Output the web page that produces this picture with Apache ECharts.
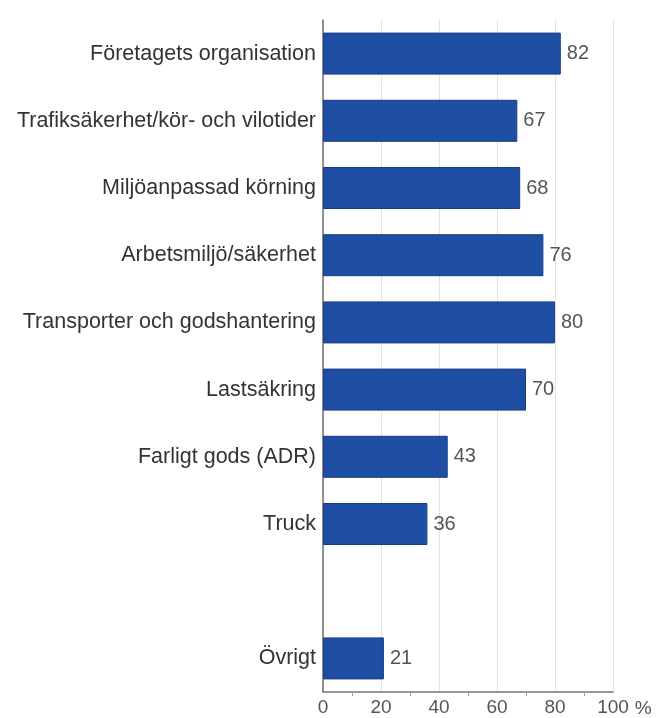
<!DOCTYPE html>
<html>
<head>
<meta charset="utf-8">
<script src="https://cdn.jsdelivr.net/npm/echarts@6/dist/echarts.min.js"></script>
<style>
  html, body { margin: 0; padding: 0; background: #fff; }
  #chart { width: 656px; height: 718px; }
</style>
</head>
<body>
<div id="chart"></div>
<script>
// Kategorier uppifrån och ned (tom rad före "Övrigt")
const categories = [
  'Företagets organisation',
  'Trafiksäkerhet/kör- och vilotider',
  'Miljöanpassad körning',
  'Arbetsmiljö/säkerhet',
  'Transporter och godshantering',
  'Lastsäkring',
  'Farligt gods (ADR)',
  'Truck',
  '',
  'Övrigt'
];
// Andel i procent
const values = [82, 67, 68, 76, 80, 70, 43, 36, null, 21];
// Skalans steg
const axisMin = 0;
const axisMax = 100;
const axisStep = 20;

const chart = echarts.init(document.getElementById('chart'), null, { renderer: 'canvas' });

const font = '"Liberation Sans", Arial, sans-serif';

chart.setOption({
  animation: false,
  backgroundColor: '#ffffff',
  grid: { left: 323, right: 43, top: 20, bottom: 22, containLabel: false },
  xAxis: {
    type: 'value',
    min: axisMin,
    max: axisMax,
    interval: axisStep,
    name: '%',
    nameLocation: 'end',
    nameGap: 20,
    nameTextStyle: {
      color: '#555', fontFamily: font, fontSize: 19,
      verticalAlign: 'top', padding: [7, 0, 0, 0]
    },
    axisLine: { show: true, lineStyle: { color: '#777', width: 1.5 } },
    axisTick: { show: false },
    minorTick: { show: true, splitNumber: 2, length: 4, lineStyle: { color: '#999' } },
    axisLabel: { color: '#555', fontFamily: font, fontSize: 19, margin: 6 },
    splitLine: { show: true, lineStyle: { color: '#e2e2e2', width: 1 } }
  },
  yAxis: {
    type: 'category',
    data: categories,
    inverse: true,
    axisLine: { show: true, lineStyle: { color: '#6e6e6e', width: 1.5 } },
    axisTick: { show: false },
    axisLabel: { color: '#333', fontFamily: font, fontSize: 21.5, margin: 7 },
    splitLine: { show: false }
  },
  series: [{
    type: 'bar',
    data: values,
    barWidth: 42,
    itemStyle: { color: '#1e4fa4', borderColor: '#173d85', borderWidth: 1 },
    label: {
      show: true,
      position: 'right',
      distance: 6,
      color: '#555',
      fontFamily: font,
      fontSize: 20
    }
  }]
});
</script>
</body>
</html>
